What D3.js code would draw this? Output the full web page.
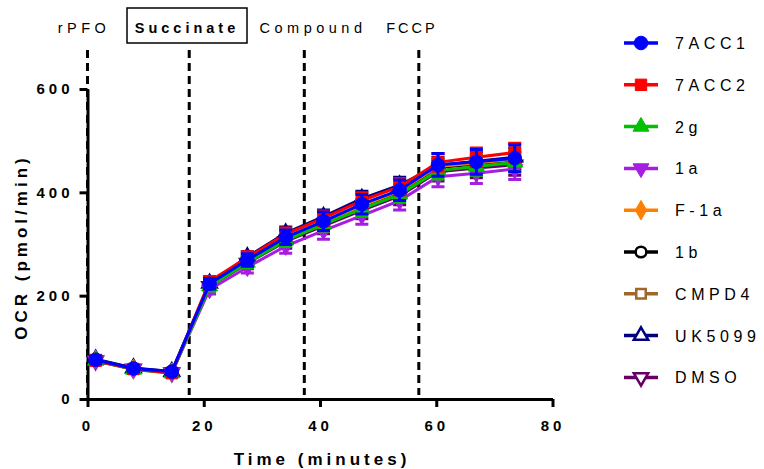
<!DOCTYPE html>
<html>
<head>
<meta charset="utf-8">
<script src="https://cdn.jsdelivr.net/npm/d3@7"></script>
<style>
  body { margin: 0; background: #fff; }
  svg text { font-family: "Liberation Sans", Arial, sans-serif; }
</style>
</head>
<body>
<svg id="chart" width="764" height="469"></svg>
<script>
// Time points (minutes)
const times = [1.4, 7.9, 14.5, 21.0, 27.5, 34.1, 40.6, 47.2, 53.7, 60.3, 66.9, 73.5];

// OCR means per compound
const acc1 = [76, 59, 53, 223, 269, 313, 344, 377, 404, 453, 459, 466];
const acc2 = [74, 58, 50, 228, 274, 319, 350, 384, 411, 458, 468, 477];
const g2 = [74, 57, 50, 218, 264, 307, 338, 368, 396, 442, 450, 458];
const a1 = [74, 58, 51, 212, 255, 296, 326, 355, 384, 430, 437, 445];
const f1a = [75, 58, 51, 221, 267, 311, 342, 374, 403, 450, 457, 464];
const b1 = [76, 59, 52, 222, 268, 312, 342, 373, 402, 448, 455, 462];
const cmpd4 = [76, 58, 51, 220, 266, 310, 341, 372, 400, 449, 456, 463];
const uk5099 = [77, 60, 53, 224, 275, 321, 353, 388, 414, 452, 460, 468];
const dmso = [74, 58, 51, 218, 263, 305, 335, 365, 393, 440, 447, 453];

// SEM per compound
const acc1Sem = [7, 6, 6, 10, 12, 14, 18, 19, 20, 22, 24, 26];
const acc2Sem = [6, 5, 5, 9, 11, 12, 14, 15, 16, 17, 18, 18];
const g2Sem = [6, 5, 5, 9, 10, 12, 13, 14, 15, 16, 17, 18];
const a1Sem = [5, 4, 4, 9, 11, 14, 17, 17, 18, 19, 20, 20];
const f1aSem = [6, 5, 5, 8, 10, 11, 12, 13, 14, 15, 16, 16];
const b1Sem = [6, 5, 5, 8, 10, 11, 12, 13, 14, 15, 16, 16];
const cmpd4Sem = [6, 5, 5, 8, 10, 11, 12, 13, 14, 15, 16, 16];
const uk5099Sem = [6, 5, 5, 9, 10, 12, 13, 14, 15, 16, 17, 18];
const dmsoSem = [6, 5, 5, 9, 11, 13, 15, 16, 17, 18, 19, 20];

const names = ['7ACC1', '7ACC2', '2g', '1a', 'F-1a', '1b', 'CMPD4', 'UK5099', 'DMSO'];
const means = [acc1, acc2, g2, a1, f1a, b1, cmpd4, uk5099, dmso];
const sems = [acc1Sem, acc2Sem, g2Sem, a1Sem, f1aSem, b1Sem, cmpd4Sem, uk5099Sem, dmsoSem];

// Injection markers
const injections = [0, 17.5, 37.3, 57];

const xTicks = [0, 20, 40, 60, 80];
const yTicks = [0, 200, 400, 600];

const colors = ['#0000ff', '#ff0000', '#00c000', '#a61fe0', '#ff8000', '#000000', '#a0662a', '#000080', '#660066'];
const shapes = [d3.symbolCircle, d3.symbolSquare, d3.symbolTriangle, d3.symbolTriangle, d3.symbolDiamond,
  d3.symbolCircle, d3.symbolSquare, d3.symbolTriangle, d3.symbolTriangle];
const filled = [true, true, true, true, true, false, false, false, false];
const flipped = [false, false, false, true, false, false, false, false, true];
const sizes = [145, 130, 110, 110, 110, 90, 90, 90, 90];

const svg = d3.select('#chart');

const x = d3.scaleLinear().domain([0, 80]).range([87.5, 552.5]);
const y = d3.scaleLinear().domain([0, 600]).range([399, 89]);

// Dashed injection lines
svg.append('g')
  .selectAll('line')
  .data(injections)
  .enter()
  .append('line')
  .attr('x1', d => x(d)).attr('x2', d => x(d))
  .attr('y1', 50).attr('y2', 395)
  .attr('stroke', '#000')
  .attr('stroke-width', 3)
  .attr('stroke-dasharray', '8,5');

// Axes
const xAxis = svg.append('g')
  .attr('transform', 'translate(0,' + y(0) + ')')
  .call(d3.axisBottom(x).tickValues(xTicks).tickSize(8).tickSizeOuter(0).tickPadding(13));
const yAxis = svg.append('g')
  .attr('transform', 'translate(' + x(0) + ',0)')
  .call(d3.axisLeft(y).tickValues(yTicks).tickSize(8).tickSizeOuter(0).tickPadding(6));

[xAxis, yAxis].forEach(a => {
  a.select('.domain').attr('stroke-width', 3);
  a.selectAll('.tick line').attr('stroke-width', 3);
  a.selectAll('.tick text')
    .attr('font-size', 15)
    .attr('font-weight', 'bold')
    .attr('fill', '#000')
    .style('letter-spacing', '4px')
    .style('font-family', '"Liberation Sans", Arial, sans-serif');
});

// Axis titles
svg.append('text')
  .attr('x', 322).attr('y', 465)
  .attr('text-anchor', 'middle')
  .attr('font-size', 17)
  .attr('font-weight', 'bold')
  .style('letter-spacing', '4px')
  .text('Time (minutes)');

svg.append('text')
  .attr('transform', 'translate(27,247) rotate(-90)')
  .attr('text-anchor', 'middle')
  .attr('font-size', 17)
  .attr('font-weight', 'bold')
  .style('letter-spacing', '4px')
  .text('OCR (pmol/min)');

// Injection labels
const topLabels = [
  {t: 'rPFO', cx: 84, bold: false, ls: 4.5},
  {t: 'Succinate', cx: 187, bold: true, ls: 4},
  {t: 'Compound', cx: 313, bold: false, ls: 4.5},
  {t: 'FCCP', cx: 412, bold: false, ls: 3}
];
svg.append('rect')
  .attr('x', 127).attr('y', 8).attr('width', 120).attr('height', 35)
  .attr('fill', 'none').attr('stroke', '#000').attr('stroke-width', 1.5);
svg.append('g')
  .selectAll('text')
  .data(topLabels)
  .enter()
  .append('text')
  .attr('x', d => d.cx).attr('y', 33)
  .attr('text-anchor', 'middle')
  .attr('font-size', 14.5)
  .attr('font-weight', d => d.bold ? 'bold' : 'normal')
  .style('letter-spacing', d => d.ls + 'px')
  .text(d => d.t);

// Series: draw last series first so 7ACC1 ends on top
const line = d3.line().x((d, i) => x(times[i])).y(d => y(d));

function marker(sel, i) {
  sel.attr('d', d3.symbol().type(shapes[i]).size(sizes[i]))
    .attr('fill', filled[i] ? colors[i] : '#fff')
    .attr('stroke', colors[i])
    .attr('stroke-width', filled[i] ? 1 : 2.5);
}

for (let i = names.length - 1; i >= 0; i--) {
  const g = svg.append('g');
  const pts = means[i].map((m, j) => ({m: m, s: sems[i][j], t: times[j]}));

  // error bars
  g.selectAll('.eb')
    .data(pts)
    .enter()
    .append('path')
    .attr('d', d => 'M' + x(d.t) + ',' + y(d.m - d.s) + 'V' + y(d.m + d.s)
      + 'M' + (x(d.t) - 6.5) + ',' + y(d.m + d.s) + 'H' + (x(d.t) + 6.5)
      + 'M' + (x(d.t) - 6.5) + ',' + y(d.m - d.s) + 'H' + (x(d.t) + 6.5))
    .attr('fill', 'none')
    .attr('stroke', colors[i])
    .attr('stroke-width', 3);

  g.append('path')
    .datum(means[i])
    .attr('d', line)
    .attr('fill', 'none')
    .attr('stroke', colors[i])
    .attr('stroke-width', 3);

  g.selectAll('.pt')
    .data(pts)
    .enter()
    .append('path')
    .attr('transform', d => 'translate(' + x(d.t) + ',' + y(d.m) + ')' + (flipped[i] ? ' rotate(180)' : ''))
    .call(marker, i);
}

// Legend
const legend = svg.append('g')
  .selectAll('g')
  .data(names)
  .enter()
  .append('g')
  .attr('transform', (d, i) => 'translate(0,' + (43 + i * 41.8) + ')');

legend.append('line')
  .attr('x1', 624).attr('x2', 658)
  .attr('stroke', (d, i) => colors[i])
  .attr('stroke-width', 3.5);

legend.each(function(d, i) {
  d3.select(this).append('path')
    .attr('transform', 'translate(641,0)' + (flipped[i] ? ' rotate(180)' : ''))
    .call(marker, i);
});

legend.append('text')
  .attr('x', 675).attr('y', 6)
  .attr('font-size', 16)
  .style('letter-spacing', '4.6px')
  .text(d => d);
</script>
</body>
</html>
